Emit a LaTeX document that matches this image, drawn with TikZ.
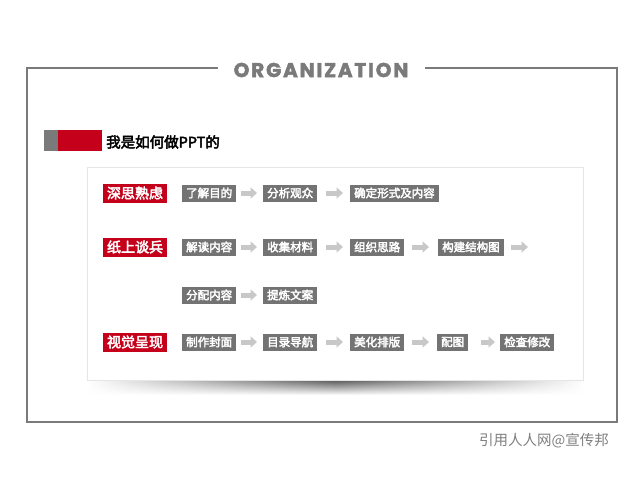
\documentclass[tikz,border=0pt]{standalone}
\usepackage{fontspec}
\newfontfamily\cjk{Noto Sans CJK SC}
\newfontfamily\cjkb[FakeBold=3]{Noto Sans CJK SC}
\newfontfamily\titlefont[LetterSpace=9,FakeBold=2]{Poppins}
\usetikzlibrary{arrows.meta,shadings,fadings}
\definecolor{frameg}{HTML}{7A7A7A}
\definecolor{boxg}{HTML}{737373}
\definecolor{redl}{HTML}{C4001A}
\definecolor{arrg}{HTML}{C8C8C8}
\definecolor{cardline}{HTML}{E6E6E6}
\tikzfading[name=hfade, left color=transparent!100, right color=transparent!100, middle color=transparent!0]
\tikzset{
  gbox/.style={fill=boxg, text=white, font=\cjkb\fontsize{11.5}{12}\selectfont, inner xsep=4pt, inner ysep=0pt, minimum height=17pt, anchor=west},
  rbox/.style={fill=redl, text=white, font=\cjkb\fontsize{14}{15}\selectfont, inner xsep=4pt, inner ysep=0pt, minimum height=19pt, minimum width=64pt},
  flow/.style={draw=arrg, line width=5pt, -{Triangle[length=6.5pt,width=11pt]}},
}
\begin{document}
\begin{tikzpicture}[x=1pt,y=-1pt]
\useasboundingbox[fill=white] (0,0) rectangle (640,480);
% frame
\draw[frameg, line width=1.6pt] (218,68) -- (27,68) -- (27,422) -- (617,422) -- (617,68) -- (425,68);
\node[text=frameg, font=\titlefont\bfseries\fontsize{20}{21}\selectfont] (title) at (321,70) {ORGANIZATION};
% header
\fill[frameg] (44,130) rectangle (58,151);
\fill[redl] (58,130) rectangle (102,151);
\node[anchor=west, font=\cjkb\fontsize{14.5}{15}\selectfont, inner sep=0pt] (head) at (106,142) {我是如何做PPT的};
% card shadow
\shade[top color=black!70, bottom color=white, path fading=hfade] (88,379) rectangle (584,395);
\fill[white] (87,167) rectangle (583,380);
\draw[cardline, line width=0.8pt] (87,167) rectangle (583,380);
% row 1
\node[rbox] (r1) at (135,193) {深思熟虑};
\node[gbox] (a1) at (182,193) {了解目的};
\node[gbox] (a2) at (263,193) {分析观众};
\node[gbox] (a3) at (350,193) {确定形式及内容};
\draw[flow, shorten <=5pt, shorten >=6pt] (a1.east) -- (a2.west);
\draw[flow, shorten <=9pt, shorten >=7pt] (a2.east) -- (a3.west);
% row 2
\node[rbox] (r2) at (135,247) {纸上谈兵};
\node[gbox] (b1) at (182,247) {解读内容};
\node[gbox] (b2) at (263,247) {收集材料};
\node[gbox] (b3) at (350,247) {组织思路};
\node[gbox] (b4) at (438,247) {构建结构图};
\coordinate (b5) at (530,247);
\draw[flow, shorten <=5pt, shorten >=6pt] (b1.east) -- (b2.west);
\draw[flow, shorten <=9pt, shorten >=7pt] (b2.east) -- (b3.west);
\draw[flow, shorten <=8pt, shorten >=9pt] (b3.east) -- (b4.west);
\draw[flow, shorten <=7pt, shorten >=2pt] (b4.east) -- (b5);
% row 3
\node[gbox] (c1) at (182,295) {分配内容};
\node[gbox] (c2) at (263,295) {提炼文案};
\draw[flow, shorten <=5pt, shorten >=6pt] (c1.east) -- (c2.west);
% row 4
\node[rbox] (r4) at (135,342) {视觉呈现};
\node[gbox] (d1) at (182,342) {制作封面};
\node[gbox] (d2) at (263,342) {目录导航};
\node[gbox] (d3) at (350,342) {美化排版};
\node[gbox] (d4) at (437,342) {配图};
\node[gbox] (d5) at (500,342) {检查修改};
\draw[flow, shorten <=5pt, shorten >=6pt] (d1.east) -- (d2.west);
\draw[flow, shorten <=9pt, shorten >=7pt] (d2.east) -- (d3.west);
\draw[flow, shorten <=8pt, shorten >=8pt] (d3.east) -- (d4.west);
\draw[flow, shorten <=13pt, shorten >=5pt] (d4.east) -- (d5.west);
% watermark
\node[anchor=east, text=black!50, font=\cjk\fontsize{14.5}{15}\selectfont, inner sep=0pt] (wm) at (609,441) {引用人人网@宣传邦};
\end{tikzpicture}
\end{document}
